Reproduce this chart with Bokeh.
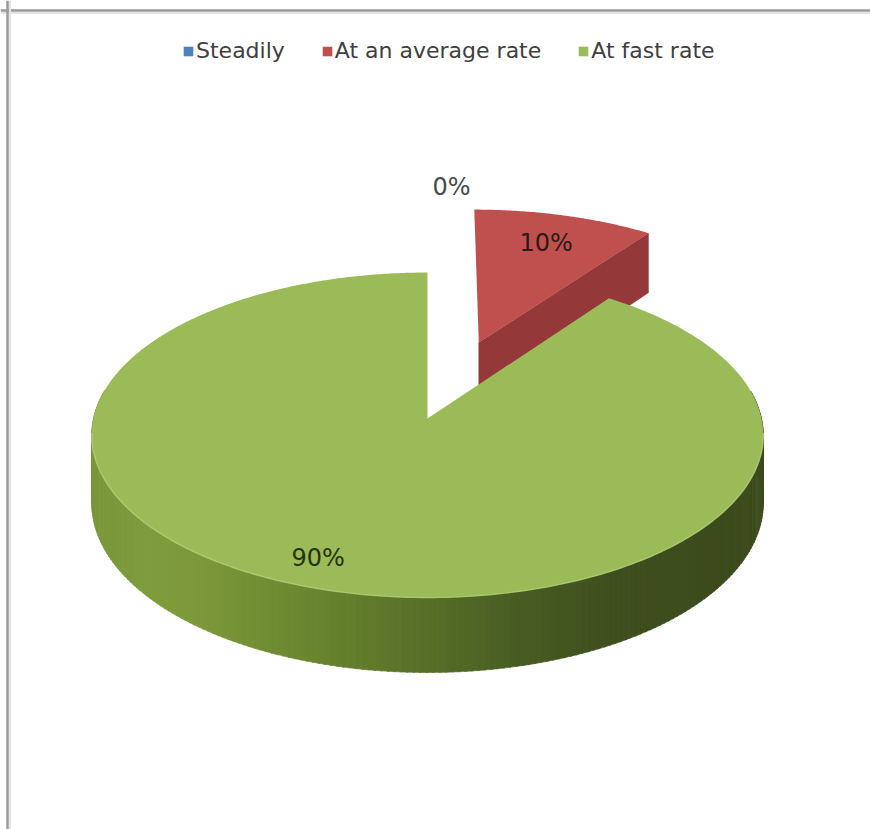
import numpy as np
from bokeh.plotting import figure
from bokeh.models import Range1d, Legend, LegendItem, Span
from bokeh.core.properties import value
from bokeh.embed import file_html
from bokeh.resources import INLINE

# ---------------- data ----------------
categories = ["Steadily", "At an average rate", "At fast rate"]
percents = [0, 10, 90]
labels = ["0%", "10%", "90%"]

# ---------------- style ----------------
top_colors = ["#4F81BD", "#C0504D", "#9BBB59"]
side_colors = ["#3A6395", "#94383A", "#5E7A2C"]
label_colors = ["#4a4a4a", "#2a1a1a", "#26330f"]
exploded = [True, True, False]
label_r = [1.16, 0.77, 0.84]
label_dx = [24, 0, -15]
FONT = "DejaVu Sans"

# green side-wall shading stops (screen x -> rgb)
shade_x = [91, 150, 200, 300, 420, 520, 620, 763]
shade_rgb = [(121, 151, 57), (128, 157, 62), (124, 152, 58), (108, 136, 48),
             (88, 112, 40), (72, 92, 34), (62, 78, 30), (60, 75, 29)]

# projection layout
W, H = 870, 829
CX, CY = 427, 418
RX, RY = 334, 160.8
K = 0.1015
T0 = 67.4
EXPLODE = 0.522


def proj(X, Z, h=0.0):
    s = 1.0 / (1.0 + K * Z)
    return CX + RX * X * s, CY - RY * Z * s + h * T0 * s


def hexc(rgb):
    return "#%02x%02x%02x" % tuple(int(round(c)) for c in rgb)


p = figure(width=W, height=H, x_range=Range1d(0, W), y_range=Range1d(H, 0),
           output_backend="svg", toolbar_location=None, min_border=0,
           background_fill_color="white", border_fill_color="white")
p.axis.visible = False
p.grid.visible = False
p.outline_line_color = None

# frame of the chart area
p.add_layout(Span(location=10, dimension="width", line_color="#9a9a9a", line_width=2.5))
p.add_layout(Span(location=12.5, dimension="width", line_color="#e4e4e4", line_width=2))
p.add_layout(Span(location=7, dimension="height", line_color="#9a9a9a", line_width=2.5))
p.add_layout(Span(location=9.5, dimension="height", line_color="#e4e4e4", line_width=2))

total = float(sum(percents))
starts = np.cumsum([0] + percents[:-1]) / total * 360.0
ends = np.cumsum(percents) / total * 360.0

# draw slices back to front: exploded (back) slices first
order = [i for i in range(len(percents)) if exploded[i]] + \
        [i for i in range(len(percents)) if not exploded[i]]

label_x, label_y = [], []
for i in range(len(percents)):
    m = np.radians((starts[i] + ends[i]) / 2.0)
    ox, oz = (EXPLODE * np.sin(m), EXPLODE * np.cos(m)) if exploded[i] else (0.0, 0.0)
    lx, ly = proj(ox + label_r[i] * np.sin(m), oz + label_r[i] * np.cos(m))
    label_x.append(lx + label_dx[i])
    label_y.append(ly)

top_renderers = {}
for i in order:
    a0, a1 = starts[i], ends[i]
    m = np.radians((a0 + a1) / 2.0)
    ox, oz = (EXPLODE * np.sin(m), EXPLODE * np.cos(m)) if exploded[i] else (0.0, 0.0)
    th = np.radians(np.linspace(a0, a1, max(3, int((a1 - a0) * 2))))
    lo, hi = max(a0, 80.0), min(a1, 280.0)

    if a1 - a0 > 0:
        # outer side wall (front-facing part only)
        if hi > lo:
            angs = np.radians(np.arange(lo, hi + 0.001, 1.0))
            xs, ys, cols = [], [], []
            for j in range(len(angs) - 1):
                t1, t2 = angs[j], angs[j + 1] + 0.004
                p1 = proj(ox + np.sin(t1), oz + np.cos(t1), 0)
                p2 = proj(ox + np.sin(t2), oz + np.cos(t2), 0)
                p3 = proj(ox + np.sin(t2), oz + np.cos(t2), 1)
                p4 = proj(ox + np.sin(t1), oz + np.cos(t1), 1)
                xs.append([p1[0], p2[0], p3[0], p4[0]])
                ys.append([p1[1], p2[1], p3[1], p4[1]])
                mx = (p1[0] + p2[0]) / 2.0
                if i == 2:
                    rgb = [np.interp(mx, shade_x, [c[k] for c in shade_rgb]) for k in range(3)]
                else:
                    rgb = [int(side_colors[i][k:k + 2], 16) for k in (1, 3, 5)]
                cols.append(hexc(rgb))
            p.patches(xs, ys, fill_color=cols, line_color=cols, line_width=0.6)

        # radial cut face at the end angle (visible for the exploded back slice)
        if exploded[i]:
            te = np.radians(a1)
            c0 = proj(ox, oz, 0)
            r0 = proj(ox + np.sin(te), oz + np.cos(te), 0)
            r1 = proj(ox + np.sin(te), oz + np.cos(te), 1)
            c1 = proj(ox, oz, 1)
            p.patch([c0[0], r0[0], r1[0], c1[0]], [c0[1], r0[1], r1[1], c1[1]],
                    fill_color=side_colors[i], line_color=side_colors[i], line_width=0.5)

    # top surface (zero-size for a 0% slice)
    pts = [proj(ox, oz)] + [proj(ox + np.sin(t), oz + np.cos(t)) for t in th]
    top_renderers[i] = p.patch([q[0] for q in pts], [q[1] for q in pts],
                               fill_color=top_colors[i], line_color=None)

    # subtle highlight on front rim
    if a1 - a0 > 0 and lo < hi:
        ra = np.radians(np.arange(max(lo, 95), min(hi, 265) + 0.001, 1.0))
        if len(ra) > 1:
            rim = [proj(ox + np.sin(t), oz + np.cos(t)) for t in ra]
            p.line([q[0] for q in rim], [q[1] for q in rim], line_color="#aecb72",
                   line_width=1.5, line_alpha=0.9)

# data labels
p.text(x=label_x, y=label_y, text=labels, text_color=label_colors,
       text_font=value(FONT), text_font_size="24px",
       text_align="center", text_baseline="middle")

# legend
items = [LegendItem(label=name, renderers=[top_renderers[i]])
         for i, name in enumerate(categories)]

legend = Legend(items=items, orientation="horizontal", location=(182, 766),
                glyph_width=12, glyph_height=12, label_standoff=2, spacing=36,
                padding=0, margin=0, border_line_color=None,
                background_fill_alpha=0, label_text_font=FONT,
                label_text_font_size="22px", label_text_color="#404040")
p.add_layout(legend, "center")

open("out.html", "w").write(file_html(p, INLINE))
